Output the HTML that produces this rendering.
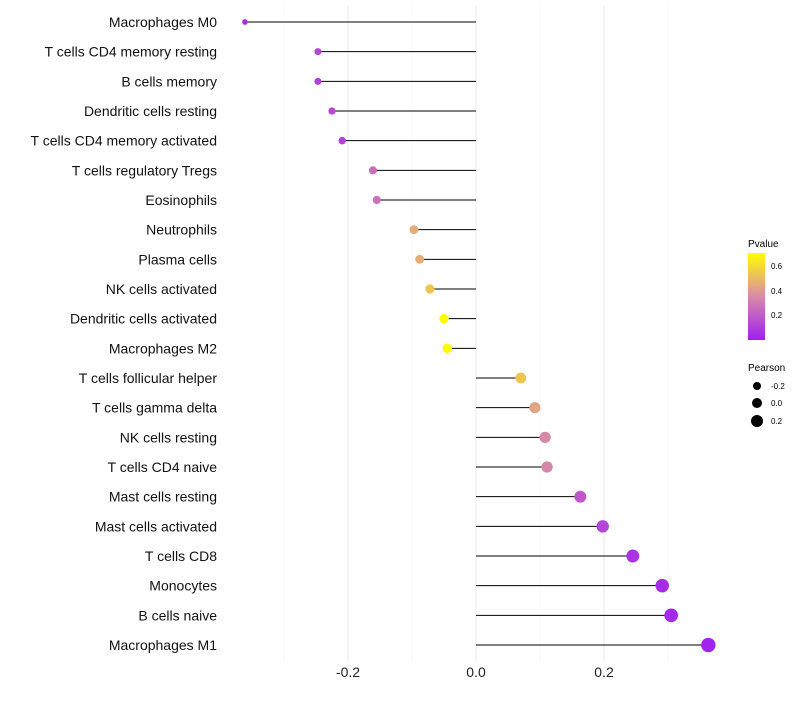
<!DOCTYPE html>
<html><head><meta charset="utf-8"><style>
body{margin:0;background:#fff;font-family:"Liberation Sans",sans-serif}
svg text{font-family:"Liberation Sans",sans-serif}
</style></head><body>
<svg id="chart" width="800" height="700">
<defs><linearGradient id="pg" x1="0" y1="1" x2="0" y2="0">
<stop offset="0" stop-color="#a020f0"/><stop offset="0.5" stop-color="#d88aa8"/><stop offset="1" stop-color="#ffff00"/></linearGradient></defs>
<g id="grid"></g><g id="marks"></g><g id="labels"></g>
<g>
<text x="748" y="247" font-size="10">Pvalue</text>
<rect x="748" y="253" width="17" height="87" fill="url(#pg)"/>
<text x="771" y="269" font-size="8">0.6</text><text x="771" y="294" font-size="8">0.4</text><text x="771" y="318" font-size="8">0.2</text>
<text x="748" y="371" font-size="10">Pearson</text>
<circle cx="757" cy="386" r="4" fill="#000"/><text x="771" y="389" font-size="8">-0.2</text>
<circle cx="757" cy="403" r="5" fill="#000"/><text x="771" y="406" font-size="8">0.0</text>
<circle cx="757" cy="421" r="6" fill="#000"/><text x="771" y="424" font-size="8">0.2</text>
</g>
</svg>
<script>
const cells=["Macrophages M0","T cells CD4 memory resting","B cells memory","Dendritic cells resting","T cells CD4 memory activated","T cells regulatory  Tregs","Eosinophils","Neutrophils","Plasma cells","NK cells activated","Dendritic cells activated","Macrophages M2","T cells follicular helper","T cells gamma delta","NK cells resting","T cells CD4 naive","Mast cells resting","Mast cells activated","T cells CD8","Monocytes","B cells naive","Macrophages M1"];
const pearson=[-0.361,-0.247,-0.247,-0.225,-0.209,-0.161,-0.155,-0.097,-0.088,-0.072,-0.05,-0.045,0.070,0.092,0.108,0.111,0.163,0.198,0.245,0.291,0.305,0.363];
const pvalue=[0.05,0.12,0.10,0.14,0.11,0.25,0.27,0.44,0.45,0.52,0.70,0.72,0.52,0.42,0.34,0.33,0.18,0.12,0.06,0.04,0.03,0.01];
const xTicks=[-0.2,0,0.2];
const ns="http://www.w3.org/2000/svg";
const X=v=>476+v*640, Y=i=>22+i*29.667;
function col(p){const t=Math.max(0,Math.min(1,p/0.688));const a=[160,32,240],m=[216,138,168],b=[255,255,0];
let c;if(t<0.5){const u=t/0.5;c=a.map((v,k)=>v+(m[k]-v)*u)}else{const u=(t-0.5)/0.5;c=m.map((v,k)=>v+(b[k]-v)*u)}
return `rgb(${c.map(Math.round).join(',')})`;}
function mk(tag,at,par){const e=document.createElementNS(ns,tag);for(const k in at)e.setAttribute(k,at[k]);document.getElementById(par).appendChild(e);return e;}
[-0.3,-0.1,0.1,0.3].forEach(v=>{const l=mk('line',{x1:X(v),x2:X(v),y1:5,y2:662,stroke:'#f4f4f4','stroke-width':0.6},'grid');

});
xTicks.forEach(v=>{const l=mk('line',{x1:X(v),x2:X(v),y1:5,y2:662,stroke:'#ebebeb','stroke-width':1},'grid');


const t=mk('text',{x:X(v),y:677,'font-size':14,'text-anchor':'middle',fill:'#222'},'labels');t.textContent=v===0?'0.0':v.toFixed(1);

});
cells.forEach((c,i)=>{const y=Y(i);
const t=mk('text',{x:217,y:y+5,'font-size':14,'text-anchor':'end',fill:'#111'},'labels');t.textContent=c;


const l=mk('line',{x1:X(0),x2:X(pearson[i]),y1:y,y2:y,stroke:'#000','stroke-width':1},'marks');


const r=Math.max(1.5,5+6*pearson[i]);
const p=mk('circle',{cx:X(pearson[i]),cy:y,r:r,fill:col(pvalue[i])},'marks');

});
</script>
</body></html>
